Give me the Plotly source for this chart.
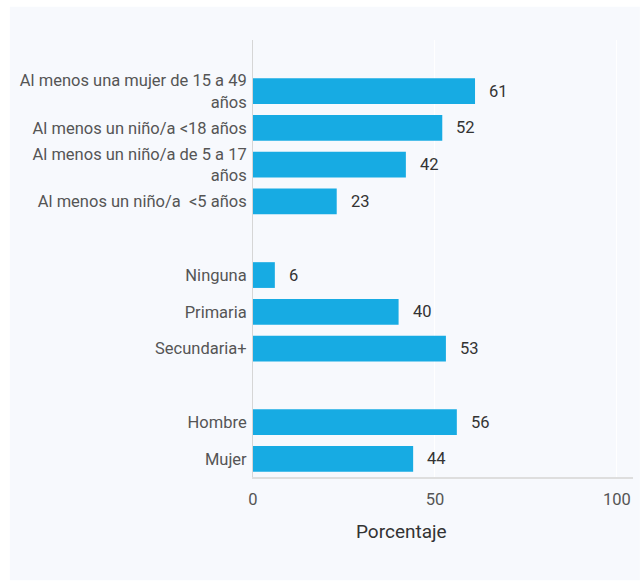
import plotly.graph_objects as go

# Category order from top to bottom; blank entries separate the groups
categories = [
    "Al menos una mujer de 15 a 49<br>años",
    "Al menos un niño/a <18 años",
    "Al menos un niño/a de 5 a 17<br>años",
    "Al menos un niño/a  <5 años",
    " ",
    "Ninguna",
    "Primaria",
    "Secundaria+",
    "  ",
    "Hombre",
    "Mujer",
]
values = [61, 52, 42, 23, None, 6, 40, 53, None, 56, 44]
x_ticks = [0, 50, 100]
x_title = "Porcentaje"

bar_color = "#17abe3"
panel_color = "#f7f9fd"
label_size = 16.5

cats = [c for c, v in zip(categories, values) if v is not None]
vals = [v for v in values if v is not None]

fig = go.Figure(
    go.Bar(
        x=vals,
        y=cats,
        orientation="h",
        width=0.7,
        marker=dict(color=bar_color, line=dict(width=0)),
        hoverinfo="skip",
    )
)

for c, v in zip(cats, vals):
    fig.add_annotation(
        x=v, y=c, text=str(v), showarrow=False,
        xanchor="left", xshift=12,
        font=dict(family="Roboto", size=label_size, color="#333333"),
    )

# axis title placed as a paper annotation below the tick labels
fig.add_annotation(
    x=0.392, y=-0.125, xref="paper", yref="paper",
    text=x_title, showarrow=False, xanchor="center", yanchor="middle",
    font=dict(family="Roboto", size=19, color="#333333"),
)

# light panel behind the whole chart
fig.add_shape(
    type="rect", xref="paper", yref="paper",
    x0=-0.64, x1=1.018, y0=-0.236, y1=1.076,
    fillcolor=panel_color, line=dict(width=0), layer="below",
)

fig.update_layout(
    width=642,
    height=583,
    margin=dict(l=253, r=9, t=40, b=106),
    paper_bgcolor="white",
    plot_bgcolor=panel_color,
    showlegend=False,
    font=dict(family="Roboto", size=label_size, color="#555555"),
    xaxis=dict(
        range=[0, 104.4],
        tickvals=x_ticks,
        ticktext=[str(t) for t in x_ticks],
        showgrid=True,
        gridcolor="white",
        gridwidth=1,
        zeroline=False,
        showline=True,
        linecolor="#dedede",
        linewidth=2,
        ticks="outside",
        ticklen=6,
        tickcolor="rgba(0,0,0,0)",
        tickfont=dict(family="Roboto", size=label_size, color="#555555"),
        fixedrange=True,
    ),
    yaxis=dict(
        type="category",
        categoryorder="array",
        categoryarray=categories[::-1],
        range=[-0.49, 11.39],
        showgrid=False,
        zeroline=False,
        showline=True,
        linecolor="#d6d6d6",
        linewidth=1,
        ticks="outside",
        ticklen=2,
        tickcolor="rgba(0,0,0,0)",
        tickfont=dict(family="Roboto", size=label_size, color="#555555"),
        fixedrange=True,
    ),
)

fig.write_html("out.html")
